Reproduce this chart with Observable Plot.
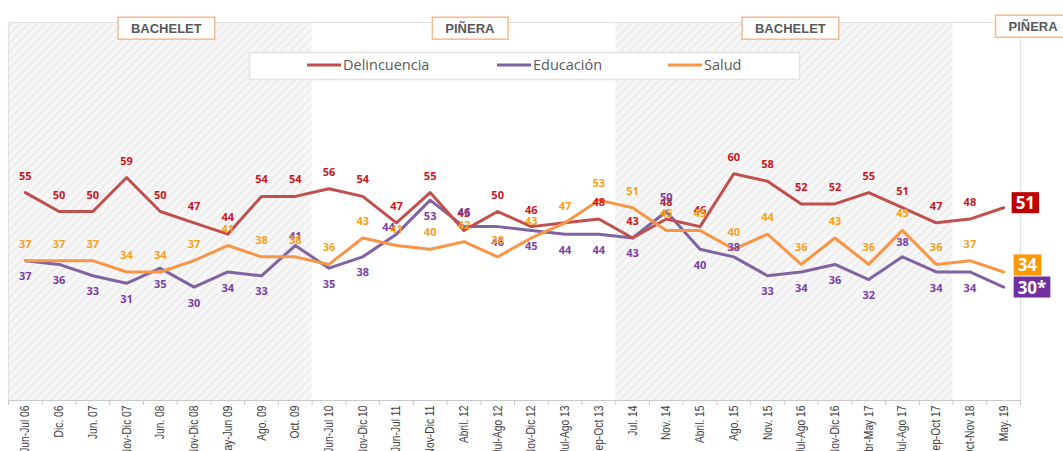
<!DOCTYPE html>
<html><head><meta charset="utf-8">
<script src="https://cdn.jsdelivr.net/npm/d3@7"></script>
<script src="https://cdn.jsdelivr.net/npm/@observablehq/plot@0.6"></script>
<style>
html,body{margin:0;padding:0;background:#fff;}
#chart{width:1063px;height:451px;overflow:hidden;position:relative;}
</style></head><body><div id="chart"></div>
<script>
// ---------- DATA ----------
const categories = ["Jun-Jul 06","Dic. 06","Jun. 07","Nov-Dic 07","Jun. 08","Nov-Dic 08","May-Jun 09","Ago. 09","Oct. 09","Jun-Jul 10","Nov-Dic 10","Jun-Jul 11","Nov-Dic 11","Abril. 12","Jul-Ago 12","Nov-Dic 12","Jul-Ago 13","Sep-Oct 13","Jul. 14","Nov. 14","Abril. 15","Ago. 15","Nov. 15","Jul-Ago 16","Nov-Dic 16","Abr-May 17","Jul-Ago 17","Sep-Oct 17","Oct-Nov 18","May. 19"];
const delincuencia = [55,50,50,59,50,47,44,54,54,56,54,47,55,45,50,46,47,48,43,48,46,60,58,52,52,55,51,47,48,51];
const educacion    = [37,36,33,31,35,30,34,33,41,35,38,44,53,46,46,45,44,44,43,50,40,38,33,34,36,32,38,34,34,30];
const salud        = [37,37,37,34,34,37,41,38,38,36,43,41,40,42,38,43,47,53,51,45,45,40,44,36,43,36,45,36,37,34];
const seriesNames = ["Delincuencia","Educación","Salud"];
const endLabels = ["51","30*","34"];
const periodNames = ["BACHELET","PIÑERA","BACHELET","PIÑERA"];
const periodFirst = [0, 9, 18, 28];
const periodLast  = [8, 17, 27, 29];
const periodShaded = [true, false, true, false];

// ---------- STYLE ----------
const lineColors  = ["#c0504d", "#8064a2", "#f79646"];
const labelColors = ["#c8161d", "#7a3ea6", "#f7a11a"];
const boxColors   = ["#c00000", "#7030a0", "#ff9900"];
const labelFont = "'Open Sans', 'DejaVu Sans', sans-serif";
const narrowFont = "'Liberation Sans Narrow', 'Liberation Sans', Arial, sans-serif";
// label placement exceptions (Educación labels shown above the line)
const eduAboveSmall = [8, 21];
const eduAboveBig = [13, 19, 26];
const eduSide = [11];
const hiddenDelLabels = [16];
const endDy = [-4, 1, -6];

const seriesValues = [delincuencia, educacion, salud];
const idx = categories.map((_, i) => i);
const bounds = d3.range(categories.length + 1).map(i => i - 0.5);
const rows = k => seriesValues[k].map((v, i) => ({i, v, series: seriesNames[k]}));
const periods = periodNames.map((name, p) => ({name, first: periodFirst[p], last: periodLast[p], shaded: periodShaded[p], mid: (periodFirst[p] + periodLast[p]) / 2}));

const textBase = {fontFamily: labelFont, fontWeight: 700, fontSize: 11, x: "i", y: "v", text: d => String(d.v)};
const lastPoint = k => [{i: categories.length - 1, v: seriesValues[k][categories.length - 1], label: endLabels[k]}];

const chart = Plot.plot({
  width: 1063, height: 451,
  marginLeft: 8, marginRight: 43, marginTop: 22, marginBottom: 51,
  x: {type: "linear", domain: [-0.5, categories.length - 0.5]},
  y: {domain: [0, 100], axis: null},
  style: {background: "transparent", overflow: "visible", fontFamily: labelFont},
  marks: [
    Plot.rect(periods.filter(d => d.shaded), {x1: d => d.first - 0.5, x2: d => d.last + 0.5, y1: 0, y2: 100, fill: "url(#hatch)"}),
    Plot.ruleY([100], {stroke: "#e2e2e2", strokeWidth: 1.2}),
    Plot.ruleX([-0.5, categories.length - 0.5], {y1: 0, y2: 100, stroke: "#e2e2e2", strokeWidth: 1.2}),
    Plot.ruleY([0], {stroke: "#c9c9c9", strokeWidth: 1.2}),
    Plot.axisX(bounds, {tickSize: 5, tickFormat: () => "", stroke: "#c9c9c9", label: null}),
    Plot.axisX(idx, {tickSize: 0, tickPadding: 5, tickRotate: -90, tickFormat: i => categories[i], fontSize: 12.5, fill: "#3c3c3c", fontFamily: narrowFont, label: null, className: "xlabels"}),
    Plot.line(rows(1), {x: "i", y: "v", stroke: lineColors[1], strokeWidth: 3}),
    Plot.line(rows(0), {x: "i", y: "v", stroke: lineColors[0], strokeWidth: 3}),
    Plot.line(rows(2), {x: "i", y: "v", stroke: lineColors[2], strokeWidth: 3}),
    // labels
    Plot.text(rows(0).filter(d => d.i < categories.length - 1 && !hiddenDelLabels.includes(d.i)), {...textBase, dy: -16.5, fill: labelColors[0]}),
    Plot.text(rows(1).filter(d => d.i < categories.length - 1 && ![...eduAboveSmall, ...eduAboveBig, ...eduSide].includes(d.i)), {...textBase, dy: 16, fill: labelColors[1]}),
    Plot.text(rows(1).filter(d => eduAboveSmall.includes(d.i)), {...textBase, dy: -9, fill: labelColors[1]}),
    Plot.text(rows(1).filter(d => eduAboveBig.includes(d.i)), {...textBase, dy: -14, fill: labelColors[1]}),
    Plot.text(rows(1).filter(d => eduSide.includes(d.i)), {...textBase, dx: -8, dy: -7, fill: labelColors[1]}),
    Plot.text(rows(2).filter(d => d.i < categories.length - 1), {...textBase, dy: -16.5, fill: labelColors[2]}),
    // period labels
    Plot.text(periods.slice(0, 3), {x: "mid", frameAnchor: "top", dx: 6, dy: 1, text: "name", fontFamily: "'Liberation Sans', Arial, sans-serif", fontWeight: 700, fontSize: 13, fill: "#595959", className: "period-label"}),
    Plot.text(periods.slice(3), {x: d => d.last + 0.5, frameAnchor: "top", dx: -12, dy: -1, textAnchor: "start", text: "name", fontFamily: "'Liberation Sans', Arial, sans-serif", fontWeight: 700, fontSize: 13, fill: "#595959", className: "period-label"}),
    // end value boxes
    Plot.text(lastPoint(0), {x: "i", y: "v", text: "label", dx: 12, dy: endDy[0], textAnchor: "start", fill: "white", fontFamily: labelFont, fontWeight: 700, fontSize: 17, className: "endbox-0"}),
    Plot.text(lastPoint(2), {x: "i", y: "v", text: "label", dx: 14, dy: endDy[2], textAnchor: "start", fill: "white", fontFamily: labelFont, fontWeight: 700, fontSize: 17, className: "endbox-2"}),
    Plot.text(lastPoint(1), {x: "i", y: "v", text: "label", dx: 14, dy: endDy[1], textAnchor: "start", fill: "white", fontFamily: labelFont, fontWeight: 700, fontSize: 17, className: "endbox-1"})
  ]
});

document.getElementById("chart").appendChild(chart);
const svg = d3.select(chart);

// hatch pattern
svg.insert("defs", ":first-child").html(
  '<pattern id="hatch" patternUnits="userSpaceOnUse" width="6" height="6" patternTransform="rotate(45)">' +
  '<rect width="6" height="6" fill="#f7f7f7"/>' +
  '<line x1="1" y1="0" x2="1" y2="6" stroke="#ededed" stroke-width="2"/></pattern>');

// condense x tick labels (narrow font look)
svg.selectAll("g.xlabels text").each(function() {
  const len = this.getComputedTextLength();
  this.setAttribute("textLength", (len * 0.82).toFixed(1));
  this.setAttribute("lengthAdjust", "spacingAndGlyphs");
});

function boxBehind(textEl, padX, padTop, padBottom, attrs) {
  const bb = textEl.getBBox();
  const r = d3.select(textEl.parentNode).insert("rect", () => textEl)
    .attr("x", bb.x - padX).attr("y", bb.y - padTop)
    .attr("width", bb.width + 2 * padX).attr("height", bb.height + padTop + padBottom);
  const t = textEl.getAttribute("transform");
  if (t) r.attr("transform", t);
  Object.entries(attrs).forEach(([k, v]) => r.attr(k, v));
}

// period label boxes
svg.selectAll("g.period-label text").each(function() {
  boxBehind(this, 13, 3.5, 3.5, {fill: "white", stroke: "#f9b98a", "stroke-width": 1.5});
});

// end value boxes
[0, 1, 2].forEach(k => {
  svg.selectAll(`g.endbox-${k} text`).each(function() {
    boxBehind(this, 4, -1, -1, {fill: boxColors[k]});
  });
});

// legend
const lg = svg.append("g").attr("text-anchor", "start");
lg.append("rect").attr("x", 249.5).attr("y", 52.5).attr("width", 550).attr("height", 27)
  .attr("fill", "white").attr("stroke", "#e3e3e3").attr("stroke-width", 1.5);
const legendX = [307, 497, 668];
seriesNames.forEach((name, k) => {
  lg.append("line").attr("x1", legendX[k]).attr("x2", legendX[k] + 34).attr("y1", 65).attr("y2", 65)
    .attr("stroke", lineColors[k]).attr("stroke-width", 3);
  lg.append("text").attr("x", legendX[k] + 36).attr("y", 65).attr("dy", "0.35em")
    .attr("text-anchor", "start")
    .attr("font-family", labelFont).attr("font-size", 14.5).attr("fill", "#595959").text(name);
});
</script></body></html>
